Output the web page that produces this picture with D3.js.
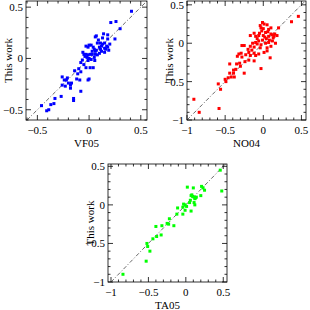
<!DOCTYPE html>
<html><head><meta charset="utf-8">
<script src="https://cdn.jsdelivr.net/npm/d3@7"></script>
<style>body{margin:0;background:#fff}svg{display:block}</style>
</head><body><div id="c"></div>
<script>
// Panel 1: VF05 vs This work (blue)
const vf05X = [0.41,0.21,0.26,0.30,0.25,0.14,0.07,0.06,0.18,0.18,0.08,0.11,0.13,0.15,0.17,0.10,0.11,0.15,0.07,0.06,0.12,0.16,0.18,0.02,-0.01,-0.03,0.04,-0.06,-0.05,-0.03,-0.01,0.01,0.03,0.06,0.08,-0.02,0.00,0.02,0.05,0.055,-0.01,-0.065,-0.08,-0.05,-0.03,0.01,0.04,-0.10,-0.08,-0.11,-0.14,-0.09,-0.12,0.00,-0.01,-0.26,-0.24,-0.22,-0.21,-0.20,-0.23,-0.18,-0.18,-0.17,-0.26,-0.08,-0.15,-0.15,-0.27,-0.33,-0.34,-0.37,-0.39,-0.41,-0.46,0.13,0.09,0.20,0.19,0.15,0.05,0.00,0.12,0.10,-0.04,0.03];
const vf05Y = [0.46,0.35,0.36,0.29,0.19,0.24,0.22,0.21,0.23,0.19,0.15,0.15,0.14,0.15,0.12,0.11,0.09,0.10,0.08,0.07,0.07,0.09,0.11,0.13,0.11,0.12,0.11,0.06,0.04,0.04,0.035,0.04,0.04,0.04,0.035,0.01,0.00,-0.01,0.01,-0.02,-0.02,-0.015,-0.04,-0.06,-0.09,-0.09,-0.09,-0.10,-0.13,-0.15,-0.12,-0.21,-0.20,-0.20,-0.21,-0.18,-0.21,-0.21,-0.19,-0.24,-0.27,-0.29,-0.26,-0.24,-0.26,-0.32,-0.39,-0.41,-0.37,-0.39,-0.44,-0.45,-0.50,-0.51,-0.46,0.20,0.18,0.14,0.08,0.06,0.09,0.13,0.12,0.05,0.02,0.07];
// Panel 2: NO04 vs This work (red)
const no04X = [0.46,0.37,-0.01,0.01,0.05,-0.04,-0.03,0.07,0.20,0.03,-0.12,-0.17,-0.10,-0.06,0.10,0.12,0.15,0.07,0.04,-0.01,-0.06,-0.10,-0.14,-0.08,-0.03,0.03,0.07,0.12,0.16,0.10,0.05,-0.04,-0.12,-0.17,-0.25,-0.28,0.01,-0.06,-0.12,-0.19,-0.23,-0.29,-0.32,-0.34,-0.28,-0.17,-0.10,0.09,-0.19,-0.12,-0.24,-0.31,-0.35,-0.44,-0.30,-0.03,-0.36,-0.39,-0.39,-0.25,-0.44,-0.42,-0.46,-0.49,-0.59,-0.56,-0.91,-0.58,-0.84,-0.38,-0.50,0.00,0.02,-0.08,0.08,0.13,-0.02,0.10,-0.20,-0.15,0.05,0.00,0.06,-0.05,0.14,0.18];
const no04Y = [0.35,0.28,0.27,0.25,0.24,0.23,0.20,0.18,0.20,0.14,0.13,0.10,0.09,0.10,0.12,0.11,0.12,0.09,0.06,0.04,0.03,0.01,0.00,-0.01,-0.02,0.00,0.01,0.03,0.00,-0.04,-0.06,-0.06,-0.05,-0.04,-0.03,-0.03,-0.12,-0.14,-0.13,-0.12,-0.15,-0.13,-0.14,-0.17,-0.18,-0.16,-0.16,-0.19,-0.22,-0.23,-0.24,-0.26,-0.27,-0.27,-0.30,-0.33,-0.34,-0.35,-0.39,-0.39,-0.39,-0.44,-0.45,-0.50,-0.53,-0.60,-0.73,-0.85,-0.90,-0.44,-0.47,0.10,0.08,0.06,0.04,0.07,0.16,0.20,-0.08,-0.09,-0.10,0.19,0.15,0.13,0.09,0.10];
// Panel 3: TA05 vs This work (green)
const ta05X = [0.46,0.48,0.25,0.23,0.21,0.20,0.02,0.10,0.07,0.09,0.11,0.14,0.12,0.06,0.05,0.11,0.12,-0.03,-0.01,0.01,-0.04,-0.01,-0.04,0.07,-0.11,-0.12,-0.22,-0.25,-0.23,-0.16,-0.32,-0.40,-0.39,-0.33,-0.44,-0.52,-0.51,-0.48,-0.53,-0.84,0.13,0.08];
const ta05Y = [0.45,0.18,0.19,0.22,0.24,0.12,0.23,0.22,0.12,0.11,0.10,0.10,0.08,0.06,0.03,0.03,0.00,0.01,0.00,-0.02,-0.03,-0.07,-0.12,-0.08,-0.04,-0.12,-0.18,-0.24,-0.25,-0.27,-0.27,-0.28,-0.41,-0.39,-0.44,-0.50,-0.54,-0.60,-0.73,-0.90,0.09,0.13];

const xLabels = ["VF05","NO04","TA05"];
const yLabel = "This work";
const majorTicks = [-1,-0.5,0,0.5];

const panels = [
  {xs:vf05X, ys:vf05Y, color:"#0000ff", xl:xLabels[0], box:[26,147,1,120], xd:[-0.61,0.56], yd:[-0.6,0.56]},
  {xs:no04X, ys:no04Y, color:"#ff0000", xl:xLabels[1], box:[187,306,1,120], xd:[-1,0.56], yd:[-1,0.55]},
  {xs:ta05X, ys:ta05Y, color:"#00ff00", xl:xLabels[2], box:[108,227,164,282], xd:[-1.04,0.55], yd:[-1,0.53]}
];

const svg = d3.select("#c").append("svg").attr("width",310).attr("height",310);
const font = "'Liberation Serif','DejaVu Serif',serif";
const fmt = v => v===0 ? "0" : (v<0 ? "\u2212"+Math.abs(v) : String(v));

panels.forEach(p => {
  const [l,r,t,b] = p.box;
  const x = d3.scaleLinear().domain(p.xd).range([l,r]);
  const y = d3.scaleLinear().domain(p.yd).range([b,t]);
  const g = svg.append("g");
  const clipId = "clip"+l;
  g.append("clipPath").attr("id",clipId).append("rect").attr("x",l).attr("y",t).attr("width",r-l).attr("height",b-t);

  const inRange = (v,d)=> v>=d[0]-1e-9 && v<=d[1]+1e-9;
  const minorX = d3.range(-10,7).map(i=>i/10).filter(v=>inRange(v,p.xd));
  const minorY = d3.range(-10,7).map(i=>i/10).filter(v=>inRange(v,p.yd));
  const isMajor = v => Math.abs(v*2-Math.round(v*2))<1e-6;
  const tk = g.append("g").attr("stroke","#000").attr("stroke-width",0.8);
  minorX.forEach(v=>{
    const len = isMajor(v)?5:2.5;
    tk.append("line").attr("x1",x(v)).attr("x2",x(v)).attr("y1",b).attr("y2",b-len);
    tk.append("line").attr("x1",x(v)).attr("x2",x(v)).attr("y1",t).attr("y2",t+len);
  });
  minorY.forEach(v=>{
    const len = isMajor(v)?5:2.5;
    tk.append("line").attr("y1",y(v)).attr("y2",y(v)).attr("x1",l).attr("x2",l+len);
    tk.append("line").attr("y1",y(v)).attr("y2",y(v)).attr("x1",r).attr("x2",r-len);
  });

  majorTicks.filter(v=>inRange(v,p.xd)).forEach(v=>{
    g.append("text").attr("x",x(v)).attr("y",b+14).attr("text-anchor","middle")
      .attr("font-family",font).attr("font-size",11).attr("fill","#000").text(fmt(v));
  });
  majorTicks.filter(v=>inRange(v,p.yd)).forEach(v=>{
    g.append("text").attr("x",l-3).attr("y",y(v)+4).attr("text-anchor","end")
      .attr("font-family",font).attr("font-size",11).attr("fill","#000").text(fmt(v));
  });

  const lo = Math.max(p.xd[0],p.yd[0]), hi = Math.min(p.xd[1],p.yd[1]);
  g.append("line").attr("x1",x(lo)).attr("y1",y(lo)).attr("x2",x(hi)).attr("y2",y(hi))
    .attr("stroke","#444").attr("stroke-width",0.8).attr("stroke-dasharray","4,2,1,2")
    .attr("clip-path",`url(#${clipId})`);

  const pts = p.xs.map((v,i)=>[v,p.ys[i]]);
  g.append("g").selectAll("rect").data(pts).join("rect")
    .attr("x",d=>x(d[0])-1.5).attr("y",d=>y(d[1])-1.5).attr("width",3).attr("height",3)
    .attr("fill",p.color);

  g.append("rect").attr("x",l).attr("y",t).attr("width",r-l).attr("height",b-t)
    .attr("fill","none").attr("stroke","#000").attr("stroke-width",0.8);

  g.append("text").attr("x",(l+r)/2).attr("y",b+27).attr("text-anchor","middle")
    .attr("font-family",font).attr("font-size",11).attr("fill","#000").text(p.xl);
  g.append("text").attr("transform",`translate(${l-14},${(t+b)/2}) rotate(-90)`)
    .attr("text-anchor","middle").attr("font-family",font).attr("font-size",11).attr("fill","#000").text(yLabel);
});
</script></body></html>
